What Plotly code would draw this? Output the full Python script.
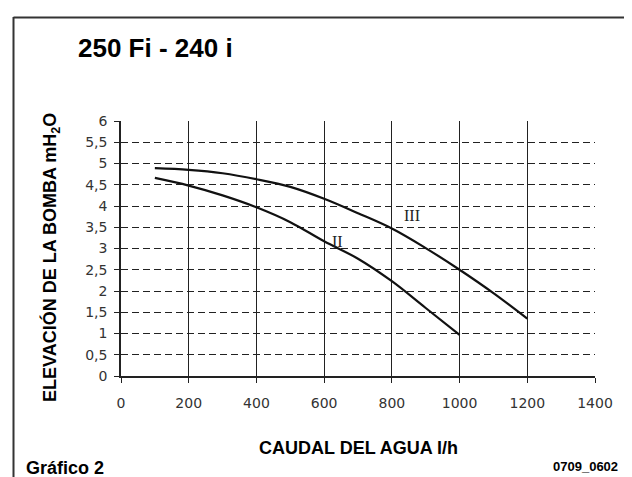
import plotly.graph_objects as go

# ---- data ----
caudal_III = [100, 200, 300, 400, 500, 600, 700, 800, 900, 1000, 1100, 1200]
elev_III = [4.89, 4.85, 4.77, 4.63, 4.45, 4.17, 3.83, 3.47, 3.01, 2.50, 1.95, 1.35]
caudal_II = [100, 200, 300, 400, 500, 600, 700, 800, 900, 1000]
elev_II = [4.66, 4.48, 4.25, 3.97, 3.62, 3.17, 2.76, 2.23, 1.60, 0.97]

x_ticks = [0, 200, 400, 600, 800, 1000, 1200, 1400]
x_tick_labels = ["0", "200", "400", "600", "800", "1000", "1200", "1400"]
y_ticks = [0, 0.5, 1, 1.5, 2, 2.5, 3, 3.5, 4, 4.5, 5, 5.5, 6]
y_tick_labels = ["0", "0,5", "1", "1,5", "2", "2,5", "3", "3,5", "4", "4,5", "5", "5,5", "6"]

curve_labels = ["II", "III"]
curve_label_x = [640, 860]
curve_label_y = [3.17, 3.77]

title_text = "250 Fi - 240 i"
x_title = "CAUDAL DEL AGUA l/h"
y_title = "ELEVACIÓN DE LA BOMBA mH<sub>2</sub>O"
footer_left = "Gráfico 2"
footer_right = "0709_0602"

# ---- layout geometry (pixels) ----
W, H = 632, 477
L, R, T, B = 113, 45, 113, 109
PW, PH = W - L - R, H - T - B


def px(x):
    return (x - L) / PW


def py(y):
    return (H - B - y) / PH


fig = go.Figure()
fig.add_trace(go.Scatter(x=caudal_III, y=elev_III, mode="lines",
                         line=dict(color="#111", width=2.2, shape="spline"),
                         showlegend=False, hoverinfo="skip"))
fig.add_trace(go.Scatter(x=caudal_II, y=elev_II, mode="lines",
                         line=dict(color="#111", width=2.2, shape="spline"),
                         showlegend=False, hoverinfo="skip"))

for t, xv, yv in zip(curve_labels, curve_label_x, curve_label_y):
    fig.add_annotation(x=xv, y=yv, xref="x", yref="y", text=t, showarrow=False,
                       font=dict(family="Liberation Serif", size=16, color="#222"))

tick_font = dict(family="DejaVu Sans", size=14, color="#333")

fig.update_xaxes(range=[0, 1400], tickvals=x_ticks, ticktext=x_tick_labels,
                 showgrid=True, gridcolor="#222", gridwidth=1.2,
                 showline=True, linecolor="#222", linewidth=1.5,
                 ticks="outside", ticklen=5, tickcolor="#222",
                 zeroline=False, tickfont=tick_font, ticklabelstandoff=8)
fig.update_yaxes(range=[0, 6], tickvals=y_ticks, ticktext=y_tick_labels,
                 showgrid=True, gridcolor="#222", gridwidth=1.2, griddash="7px,4px",
                 showline=True, linecolor="#222", linewidth=1.5,
                 ticks="outside", ticklen=5, tickcolor="#222",
                 zeroline=False, tickfont=tick_font, ticklabelstandoff=4)

bold = "Liberation Sans"
fig.add_annotation(x=px(68), y=py(40), xref="paper", yref="paper", text="<b>%s</b>" % title_text,
                   showarrow=False, xanchor="left", yanchor="middle",
                   font=dict(family=bold, size=26, color="#000"))
fig.add_annotation(x=px(350), y=py(440), xref="paper", yref="paper", text="<b>%s</b>" % x_title,
                   showarrow=False, xanchor="center", yanchor="middle",
                   font=dict(family=bold, size=18, color="#000"))
fig.add_annotation(x=px(43), y=py(250), xref="paper", yref="paper", text="<b>%s</b>" % y_title,
                   showarrow=False, xanchor="center", yanchor="middle", textangle=-90,
                   font=dict(family=bold, size=18, color="#000"))
fig.add_annotation(x=px(16), y=py(460), xref="paper", yref="paper", text="<b>%s</b>" % footer_left,
                   showarrow=False, xanchor="left", yanchor="middle",
                   font=dict(family=bold, size=18, color="#000"))
fig.add_annotation(x=px(612), y=py(458), xref="paper", yref="paper", text="<b>%s</b>" % footer_right,
                   showarrow=False, xanchor="right", yanchor="middle",
                   font=dict(family=bold, size=13, color="#000"))

# outer frame (left and top edges)
fig.add_shape(type="line", xref="paper", yref="paper", x0=px(5.5), x1=px(5.5), y0=py(9), y1=py(H + 5),
              line=dict(color="#333", width=2))
fig.add_shape(type="line", xref="paper", yref="paper", x0=px(5.5), x1=px(W + 5), y0=py(9.5), y1=py(9.5),
              line=dict(color="#333", width=2))

fig.update_layout(width=W, height=H, margin=dict(l=L, r=R, t=T, b=B),
                  paper_bgcolor="white", plot_bgcolor="white", showlegend=False)

fig.write_html("out.html")
